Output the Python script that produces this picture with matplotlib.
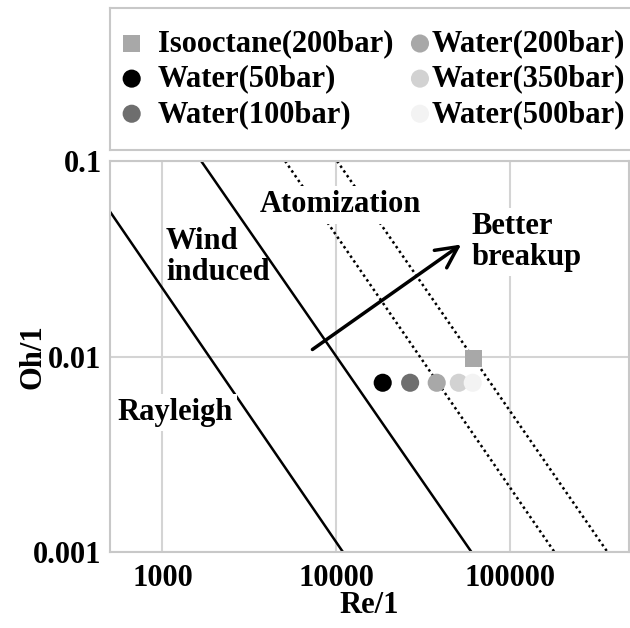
import numpy as np
import matplotlib
matplotlib.use("Agg")
from matplotlib import pyplot as plt

plt.rcParams['font.family'] = ['Liberation Serif', 'DejaVu Serif']
plt.rcParams['font.weight'] = 'bold'
plt.rcParams['axes.labelweight'] = 'bold'
plt.rcParams['font.size'] = 22

# regime boundaries (Re, Oh end points)
rayleigh_re = [500, 10900]
rayleigh_oh = [0.0551, 0.001]
wind_re = [1670, 59700]
wind_oh = [0.1, 0.001]
atom1_re = [5070, 179000]
atom2_re = [10090, 361000]
atom_oh = [0.1, 0.001]

# measured injection conditions
iso_re = [61200]
iso_oh = [0.0098]
water_labels = ['Water(50bar)', 'Water(100bar)', 'Water(200bar)',
                'Water(350bar)', 'Water(500bar)']
water_re = [18450, 26520, 37700, 50500, 60700]
water_oh = [0.00734, 0.00734, 0.00734, 0.00734, 0.00734]
water_colors = ['#000000', '#6e6e6e', '#a8a8a8', '#d2d2d2', '#f3f3f3']

xticks = [1000, 10000, 100000]
xticklabels = ['1000', '10000', '100000']
yticks = [0.001, 0.01, 0.1]
yticklabels = ['0.001', '0.01', '0.1']

fig = plt.figure(figsize=(6.3, 6.28), dpi=100)
ax = fig.add_axes([110/630, 1-552/628, 519/630, 391/628])
ax.set_xscale('log')
ax.set_yscale('log')
ax.set_xlim(500, 480000)
ax.set_ylim(0.001, 0.1)

ax.plot(rayleigh_re, rayleigh_oh, color='black', lw=1.8, zorder=2)
ax.plot(wind_re, wind_oh, color='black', lw=1.8, zorder=2)
ax.plot(atom1_re, atom_oh, color='black', lw=1.8, ls=(0, (1, 1.3)), zorder=2)
ax.plot(atom2_re, atom_oh, color='black', lw=1.8, ls=(0, (1, 1.3)), zorder=2)

h_iso = ax.scatter(iso_re, iso_oh, marker='s', s=150, color='#a8a8a8',
                   edgecolors='none', zorder=4, label='Isooctane(200bar)')
h_water = []
for r, o, c, lab in zip(water_re, water_oh, water_colors, water_labels):
    h_water.append(ax.scatter([r], [o], s=170, color=c, edgecolors='none',
                              zorder=4, label=lab))

ax.annotate('', xy=(52100, 0.0374), xytext=(7280, 0.01086),
            arrowprops=dict(arrowstyle='->,head_length=0.7,head_width=0.35',
                            color='black', lw=2.5, shrinkA=0, shrinkB=0),
            zorder=5)

box = dict(facecolor='white', edgecolor='none', pad=3)
ax.text(10550, 0.0596, 'Atomization', ha='center', va='center', bbox=box, zorder=3)
ax.text(1050, 0.0323, 'Wind\ninduced', ha='left', va='center',
        linespacing=1.05, zorder=3)
ax.text(551, 0.00518, 'Rayleigh', ha='left', va='center', bbox=box, zorder=3)
ax.text(59400, 0.0385, 'Better\nbreakup', ha='left', va='center',
        linespacing=1.1, bbox=box, zorder=3)

ax.set_xticks(xticks, labels=xticklabels)
ax.set_yticks(yticks, labels=yticklabels)
ax.minorticks_off()
ax.tick_params(length=0, pad=9)
ax.tick_params(axis='y', pad=6)
ax.grid(True, color='#d4d4d4', lw=1.5)
ax.set_axisbelow(True)
for sp in ax.spines.values():
    sp.set_color('#c8c8c8')
    sp.set_linewidth(1.5)
    sp.set_zorder(6)

ax.set_xlabel('Re/1')
ax.set_ylabel('Oh/1')
ax.xaxis.set_label_coords(0.5, -0.1)
ax.yaxis.set_label_coords(-0.12, 0.5)

# legend panel above the plot
lax = fig.add_axes([110/630, 1-150/628, 540/630, 141.7/628])
lax.set_xticks([])
lax.set_yticks([])
for sp in lax.spines.values():
    sp.set_color('#c8c8c8')
    sp.set_linewidth(1.5)

leg1 = lax.legend(handles=[h_iso, h_water[0], h_water[1]], loc='center left',
                  bbox_to_anchor=(6.4/540, 0.5), frameon=False, borderpad=0,
                  borderaxespad=0, handlelength=1, handletextpad=0.36,
                  labelspacing=0.2, scatterpoints=1, fontsize=22)
lax.add_artist(leg1)
lax.legend(handles=h_water[2:], loc='center left',
           bbox_to_anchor=((410.8-110)/540, 0.5), frameon=False, borderpad=0,
           borderaxespad=0, handlelength=0.6, handletextpad=0.08,
           labelspacing=0.2, scatterpoints=1, fontsize=22)

fig.savefig('out.png', dpi=100)
